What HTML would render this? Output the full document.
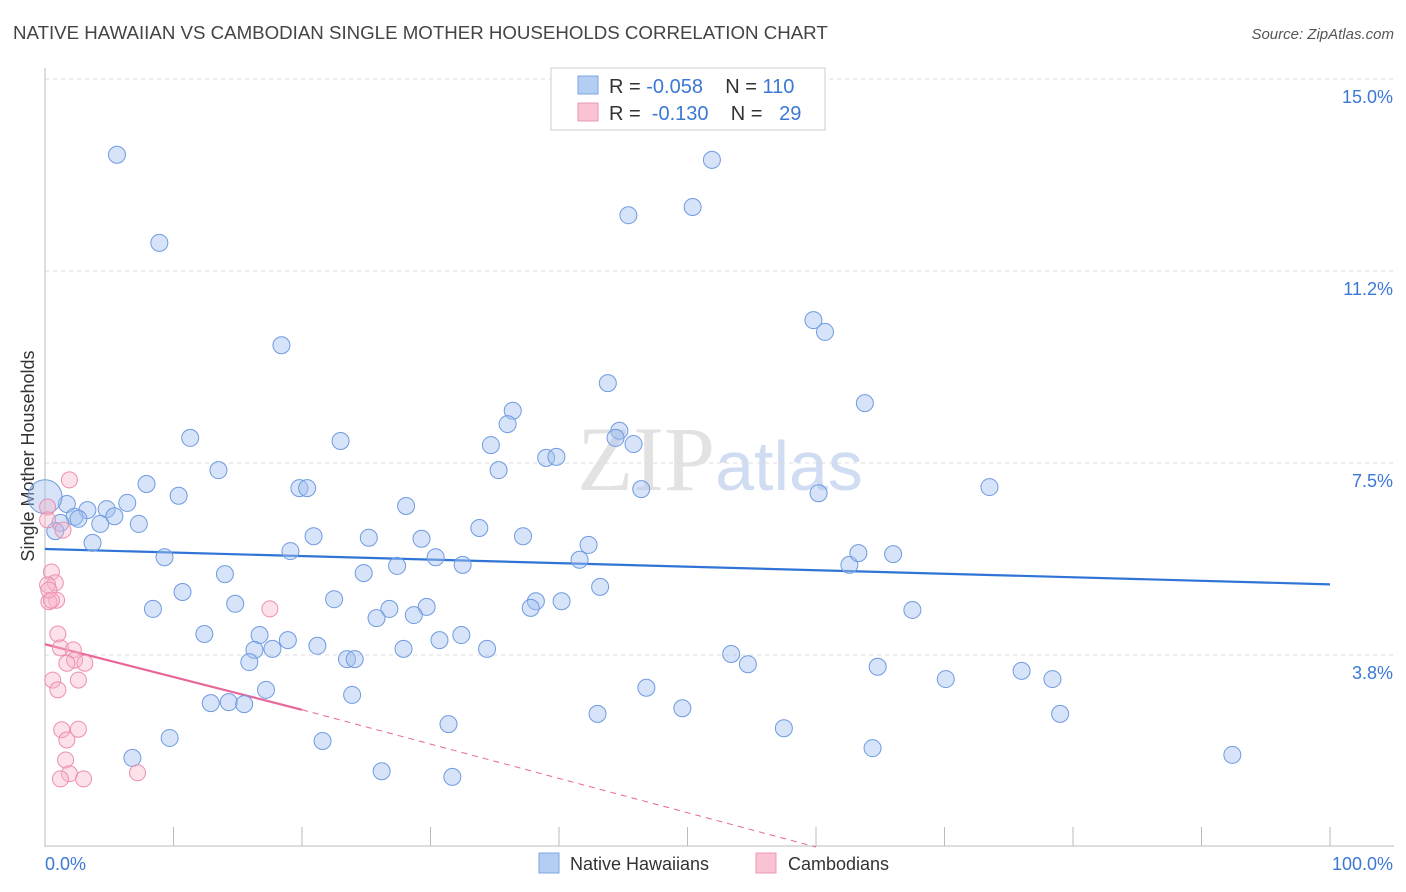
<!DOCTYPE html>
<html><head><meta charset="utf-8"><style>
body{margin:0;background:#fff;font-family:"Liberation Sans",sans-serif;}
</style></head><body>
<svg id="chart" width="1406" height="892" xmlns="http://www.w3.org/2000/svg" style="display:block">
<text x="13" y="39" font-size="18.7" fill="#444">NATIVE HAWAIIAN VS CAMBODIAN SINGLE MOTHER HOUSEHOLDS CORRELATION CHART</text>
<text x="1394" y="39" font-size="15" fill="#555" text-anchor="end" font-style="italic">Source: ZipAtlas.com</text>
<text x="720" y="490" font-size="92" fill="#e2e2e2" text-anchor="middle" font-family="Liberation Serif,serif">ZIP<tspan fill="#cfdcf2" font-family="Liberation Sans,sans-serif" font-size="70">atlas</tspan></text>
<g id="grid"></g>
<g id="axes"></g>
<text transform="translate(34,456) rotate(-90)" font-size="18" fill="#333" text-anchor="middle">Single Mother Households</text>
<g id="trend"></g>
<g id="points"></g>
<g>
<rect x="551" y="68" width="274" height="62" fill="#fff" stroke="#ccc"/>
<rect x="578" y="76" width="20" height="18" fill="#b3cdf3" stroke="#7ea6e3"/>
<text x="609" y="93" font-size="20" fill="#333" xml:space="preserve">R = <tspan fill="#3b78d4">-0.058</tspan>    N = <tspan fill="#3b78d4">110</tspan></text>
<rect x="578" y="103" width="20" height="18" fill="#f9c3d3" stroke="#ec9ab5"/>
<text x="609" y="120" font-size="20" fill="#333" xml:space="preserve">R =  <tspan fill="#3b78d4">-0.130</tspan>    N =   <tspan fill="#3b78d4">29</tspan></text>
</g>
<g>
<rect x="539" y="853" width="20" height="20" fill="#b3cdf3" stroke="#7ea6e3"/>
<text x="570" y="870" font-size="18" fill="#333">Native Hawaiians</text>
<rect x="756" y="853" width="20" height="20" fill="#f9c3d3" stroke="#ec9ab5"/>
<text x="788" y="870" font-size="18" fill="#333">Cambodians</text>
</g>
</svg>
<script>
const yTicks=[3.75,7.5,11.25,15];
const yTickLabels=["3.8%","7.5%","11.2%","15.0%"];
const xTickLabels=["0.0%","100.0%"];
const blueX=[5.6,8.9,51.9,45.4,50.4,18.4,59.8,60.7,43.8,63.8,36.4,36.0,44.7,44.4,45.8,34.7,23.0,11.3,39.0,39.8,35.3,13.5,7.9,10.4,19.8,20.4,46.4,60.2,73.5,6.4,1.7,3.3,4.8,5.4,2.3,2.6,1.2,4.3,7.3,0.8,28.1,33.8,20.9,25.2,29.3,37.2,3.7,19.1,42.3,9.3,30.4,41.6,32.5,27.4,62.6,63.3,66.0,24.8,14.0,43.2,10.7,22.5,38.2,40.2,14.8,8.4,29.7,26.8,37.8,28.7,25.8,67.5,12.4,16.7,18.9,32.4,30.7,21.2,27.9,34.4,16.3,17.7,53.4,23.5,24.1,15.9,54.7,64.8,76.0,70.1,78.4,46.8,17.2,23.9,12.9,14.3,15.5,49.6,43.0,79.0,31.4,57.5,9.7,21.6,6.8,64.4,92.4,26.2,31.7,0.0];
const blueY=[13.52,11.80,13.42,12.34,12.50,9.80,10.29,10.06,9.06,8.67,8.52,8.26,8.13,7.99,7.87,7.85,7.93,7.99,7.60,7.62,7.36,7.36,7.09,6.86,7.01,7.01,6.99,6.91,7.03,6.72,6.70,6.58,6.60,6.46,6.45,6.41,6.33,6.31,6.31,6.17,6.66,6.23,6.07,6.04,6.02,6.07,5.94,5.78,5.90,5.66,5.66,5.61,5.51,5.49,5.51,5.74,5.72,5.35,5.33,5.08,4.98,4.84,4.80,4.80,4.75,4.65,4.69,4.65,4.67,4.53,4.47,4.63,4.16,4.14,4.04,4.14,4.04,3.93,3.87,3.87,3.85,3.87,3.77,3.67,3.67,3.61,3.57,3.52,3.44,3.28,3.28,3.11,3.07,2.97,2.81,2.83,2.79,2.71,2.60,2.60,2.40,2.32,2.13,2.07,1.74,1.93,1.80,1.48,1.37,6.84];
const pinkX=[1.9,0.2,1.4,0.5,0.8,0.2,0.9,0.3,1.0,1.2,2.2,2.3,3.1,1.7,0.6,2.6,1.0,1.3,2.6,1.7,1.6,1.9,3.0,1.2,7.2,17.5,0.3,0.5,0.2];
const pinkY=[7.17,6.64,6.19,5.37,5.16,5.12,4.82,4.79,4.16,3.89,3.85,3.65,3.59,3.59,3.26,3.26,3.07,2.29,2.30,2.09,1.70,1.43,1.33,1.33,1.45,4.65,5.02,4.82,6.39];
const blueTrend=[5.82,5.13];
const pinkTrend=[3.96,2.68,0.0];
const pinkTrendX=[0,20,60];

const X0=45,X1=1330,Y0=847,Y15=79;
const sx=v=>X0+(X1-X0)*v/100;
const sy=v=>Y0-(Y0-Y15)*v/15;
const NS="http://www.w3.org/2000/svg";
function mk(tag,attrs,parent){const e=document.createElementNS(NS,tag);for(const k in attrs)e.setAttribute(k,attrs[k]);document.getElementById(parent).appendChild(e);return e;}

yTicks.forEach((t,i)=>{
  const g=mk('line',{x1:45,x2:1394,y1:sy(t),y2:sy(t),stroke:'#ddd','stroke-dasharray':'4,4'},'grid');
  
  
  const l=mk('text',{x:1393,y:sy(t)+24,'font-size':18,fill:'#3b78d4','text-anchor':'end'},'axes');
  l.textContent=yTickLabels[i];
  
  
});
const ax=mk('line',{x1:45,x2:45,y1:68,y2:847,stroke:'#bbb'},'axes');


const bx=mk('line',{x1:45,x2:1394,y1:846,y2:846,stroke:'#bbb'},'axes');


for(let i=0;i<=10;i++){
  const t=mk('line',{x1:sx(i*10),x2:sx(i*10),y1:827,y2:846,stroke:'#bbb'},'axes');
  
  
}
const xl0=mk('text',{x:45,y:870,'font-size':18,fill:'#3b78d4'},'axes');
xl0.textContent=xTickLabels[0];


const xl1=mk('text',{x:1393,y:870,'font-size':18,fill:'#3b78d4','text-anchor':'end'},'axes');
xl1.textContent=xTickLabels[1];



blueX.forEach((x,i)=>{
  const c=mk('circle',{cx:sx(x),cy:sy(blueY[i]),r:(i===blueX.length-1?17:8.5),fill:'rgba(164,194,240,0.45)',stroke:'#6f9be0','stroke-width':1},'points');
  
  
});
pinkX.forEach((x,i)=>{
  const c=mk('circle',{cx:sx(x),cy:sy(pinkY[i]),r:8,fill:'rgba(248,180,200,0.4)',stroke:'#ec8fb0','stroke-width':1},'points');
  
  
});
const bt=mk('line',{x1:sx(0),y1:sy(blueTrend[0]),x2:sx(100),y2:sy(blueTrend[1]),stroke:'#2f74d6','stroke-width':2.2},'trend');


const pt=mk('line',{x1:sx(pinkTrendX[0]),y1:sy(pinkTrend[0]),x2:sx(pinkTrendX[1]),y2:sy(pinkTrend[1]),stroke:'#e8669a','stroke-width':2.2},'trend');


const pd=mk('line',{x1:sx(pinkTrendX[1]),y1:sy(pinkTrend[1]),x2:sx(pinkTrendX[2]),y2:sy(pinkTrend[2]),stroke:'#e8669a','stroke-width':1,'stroke-dasharray':'6,5'},'trend');


</script>
</body></html>
